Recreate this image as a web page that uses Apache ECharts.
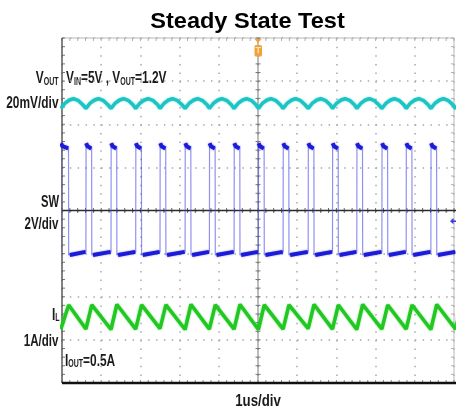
<!DOCTYPE html>
<html>
<head>
<meta charset="utf-8">
<script src="https://cdn.jsdelivr.net/npm/echarts@6/dist/echarts.min.js"></script>
<style>
  html, body { margin: 0; padding: 0; background: #fff; }
  #c { width: 456px; height: 413px; }
</style>
</head>
<body>
<div id="c"></div>
<script>
// Screen: 10 horizontal divisions at 1 us/div (trigger at t = 0), 8 vertical divisions
const TIME_RANGE = [-5, 5];
const DIV_RANGE = [-4, 4];

// Switch-node edges, in us
const swRise = [-5.03, -4.39, -3.75, -3.12, -2.50, -1.86, -1.24, -0.61, 0.01, 0.64, 1.28, 1.90, 2.52, 3.16, 3.78, 4.41, 5.04];
const swFall = [-4.83, -4.24, -3.60, -2.97, -2.35, -1.71, -1.09, -0.46, 0.16, 0.79, 1.43, 2.05, 2.67, 3.31, 3.93, 4.56, 5.19];

// Switch-node levels, in V (start / end of the high and low plateaus)
const swHighStart = 5.12;
const swHighSettled = 4.98;
const swHighEnd = 4.88;
const swLowStart = -0.06;
const swLowEnd = 0.08;

// Inductor current, in A: valley at each rising edge, peak at each falling edge
const ilValley = [0.22, 0.22, 0.21, 0.22, 0.23, 0.21, 0.22, 0.22, 0.21, 0.22, 0.23, 0.22, 0.21, 0.22, 0.22, 0.21, 0.22];
const ilPeak   = [0.78, 0.78, 0.79, 0.78, 0.78, 0.79, 0.78, 0.79, 0.78, 0.78, 0.79, 0.78, 0.79, 0.78, 0.78, 0.79, 0.78];

// Output ripple, in mV around 1.2 V: one cycle starts at each rising edge
const voutCycleT  = [0, 0.10, 0.22, 0.32, 0.45, 0.56];
const voutCycleMV = [-2.4, -0.1, 1.5, 2.1, 1.2, -0.7];

// Channel scales (units/div) and screen positions (div)
const VOUT_SCALE = 20, VOUT_POS = 2.487;
const SW_SCALE = 2,    SW_POS = -1.0;
const IL_SCALE = 1,    IL_POS = -2.97;

const vo = mv => VOUT_POS + mv / VOUT_SCALE;
const sw = v => SW_POS + v / SW_SCALE;
const il = a => IL_POS + a / IL_SCALE;

// Build traces
const voutData = [];
for (let i = 0; i < swRise.length; i++) {
  for (let k = 0; k < voutCycleT.length; k++) {
    voutData.push([swRise[i] + voutCycleT[k], vo(voutCycleMV[k])]);
  }
}

const ilData = [];
for (let i = 0; i < swRise.length; i++) {
  ilData.push([swRise[i], il(ilValley[i])]);
  ilData.push([swFall[i], il(ilPeak[i])]);
}

const swEdges = [];   // full waveform, thin
const swFlats = [];   // plateaus only, heavy
for (let i = 0; i < swRise.length - 1; i++) {
  const r = swRise[i], f = swFall[i], n = swRise[i + 1];
  swEdges.push([r, sw(swLowEnd)], [r + 0.004, sw(swHighStart)], [f - 0.004, sw(swHighEnd)], [f, sw(swLowStart)]);
  swFlats.push([r + 0.006, sw(swHighStart)], [r + 0.04, sw(swHighSettled)], [f - 0.012, sw(swHighEnd)], [f, '-']);
  swFlats.push([f + 0.03, sw(swLowStart)], [n - 0.01, sw(swLowEnd)], [n, '-']);
}
swEdges.push([swRise[swRise.length - 1], sw(swLowEnd)]);

const FONT = '"Liberation Sans", Arial, sans-serif';
const TEXT = '#1a1a1a';
const SQUEEZE = 0.7;   // condensed lettering for the channel notes

// Frame: borders, centre cross-hair, division ticks, trigger markers
function renderFrame(params, api) {
  const c = (x, y) => api.coord([x, y]);
  const kids = [];
  const seg = (a, b, stroke, lineWidth) => kids.push({
    type: 'line', shape: { x1: a[0], y1: a[1], x2: b[0], y2: b[1] },
    style: { stroke, lineWidth }
  });
  const tl = c(-5, 4), br = c(5, -4), ctr = c(0, 0);

  // top and right borders
  seg([tl[0], tl[1]], [br[0], tl[1]], '#b8b8b8', 1);
  seg([br[0], tl[1]], [br[0], br[1]], '#b8b8b8', 1);

  // minor ticks, 5 per division
  for (let t = -5; t <= 5.001; t += 0.2) {
    const x = c(t, 0)[0];
    seg([x, ctr[1] - 2.5], [x, ctr[1] + 2.5], '#666', 1);
    seg([x, tl[1]], [x, tl[1] + 3], '#b0b0b0', 1);
    seg([x, br[1] - 3], [x, br[1]], '#888', 1);
  }
  for (let d = -4; d <= 4.001; d += 0.2) {
    const y = c(0, d)[1];
    seg([ctr[0] - 2.5, y], [ctr[0] + 2.5, y], '#777', 1);
    seg([tl[0], y], [tl[0] + 3, y], '#777', 1);
    seg([br[0] - 3, y], [br[0], y], '#b0b0b0', 1);
  }

  // centre cross-hair
  seg([ctr[0], tl[1]], [ctr[0], br[1]], '#7a7a7a', 1);
  seg([tl[0], ctr[1]], [br[0] + 2, ctr[1]], '#2a2a2a', 1.5);

  // left border and heavy bottom edge
  seg([tl[0], tl[1]], [tl[0], br[1]], '#5a5a5a', 1.5);
  seg([tl[0], br[1]], [br[0] + 2, br[1]], '#111', 2.5);

  // trigger position marker
  const tp = c(0, 4);
  kids.push({ type: 'polygon', shape: { points: [[tp[0] - 3.5, tp[1] + 1], [tp[0] + 3.5, tp[1] + 1], [tp[0], tp[1] + 5]] },
              style: { fill: '#f2a23a' } });
  kids.push({ type: 'rect', shape: { x: tp[0] - 3.5, y: tp[1] + 7, width: 7.5, height: 11.5, r: 1.5 },
              style: { fill: '#f2a23a' } });
  kids.push({ type: 'text', style: { x: tp[0] + 0.3, y: tp[1] + 13, text: 'T', fill: '#fde2b8',
              font: 'bold 9px ' + FONT, align: 'center', verticalAlign: 'middle' } });

  // trigger level marker on the switch-node channel
  const lv = c(5, sw(1.5));
  kids.push({ type: 'polygon', shape: { points: [[lv[0] - 4, lv[1]], [lv[0] - 0.5, lv[1] - 3], [lv[0] - 0.5, lv[1] + 3]] },
              style: { fill: '#3a3ae6' } });
  seg([lv[0] - 1, lv[1]], [lv[0] + 2, lv[1]], '#3a3ae6', 1.5);

  return { type: 'group', children: kids };
}

const sub = { fontFamily: FONT, fontWeight: 'bold', fontSize: 10, lineHeight: 10, verticalAlign: 'bottom', fill: TEXT };
const main = { fontFamily: FONT, fontWeight: 'bold', fontSize: 17, lineHeight: 17, fill: TEXT };

function label(x, y, text, align, rich, squeeze) {
  return {
    type: 'text', x, y, silent: true, scaleX: squeeze || SQUEEZE,
    style: rich
      ? { text, align, verticalAlign: 'middle', rich: { m: main, s: sub } }
      : { text, align, verticalAlign: 'middle', fill: TEXT, font: 'bold 17px ' + FONT }
  };
}

const chart = echarts.init(document.getElementById('c'), null, { renderer: 'canvas' });
chart.setOption({
  animation: false,
  backgroundColor: '#ffffff',
  grid: { left: 62, top: 38, width: 392, height: 345 },
  xAxis: {
    type: 'value', min: TIME_RANGE[0], max: TIME_RANGE[1], interval: 1,
    axisLine: { show: false }, axisTick: { show: false }, axisLabel: { show: false },
    splitLine: { show: true, lineStyle: { color: '#a8a8a8', width: 1.5, type: [1.5, 7.125] } }
  },
  yAxis: {
    type: 'value', min: DIV_RANGE[0], max: DIV_RANGE[1], interval: 1,
    axisLine: { show: false }, axisTick: { show: false }, axisLabel: { show: false },
    splitLine: { show: true, lineStyle: { color: '#a8a8a8', width: 1.5, type: [1.5, 6.34] } }
  },
  graphic: [
    { type: 'text', x: 247.5, y: 21.5, silent: true, scaleX: 1.07,
      style: { text: 'Steady State Test', align: 'center', verticalAlign: 'middle', fill: '#000',
               font: 'bold 22px ' + FONT } },
    label(58.5, 78.5, '{m|V}{s|OUT}', 'right', true),
    label(66, 78.5, '{m|V}{s|IN}{m|=5V , V}{s|OUT}{m|=1.2V}', 'left', true),
    label(58.5, 103, '20mV/div', 'right'),
    label(59, 202, 'SW', 'right', false, 0.66),
    label(58.5, 224, '2V/div', 'right', false, 0.68),
    label(59.5, 315, '{m|I}{s|L}', 'right', true),
    label(58.5, 341, '1A/div', 'right', false, 0.68),
    label(65, 361, '{m|I}{s|OUT}{m|=0.5A}', 'left', true),
    label(258, 401, '1us/div', 'center', false, 0.78)
  ],
  series: [
    { type: 'custom', name: 'frame', data: [[0, 0]], renderItem: renderFrame, clip: false, silent: true, z: 1 },
    { type: 'line', name: 'SW edges', data: swEdges, showSymbol: false, z: 3, silent: true,
      lineStyle: { color: 'rgba(70,70,235,0.6)', width: 1.2 } },
    { type: 'line', name: 'SW', data: swFlats, showSymbol: false, z: 4, silent: true, connectNulls: false,
      lineStyle: { color: '#1c1cd8', width: 4, shadowColor: 'rgba(30,30,215,0.5)', shadowBlur: 2 } },
    { type: 'line', name: 'VOUT', data: voutData, showSymbol: false, z: 4, silent: true,
      lineStyle: { color: '#1cc4c4', width: 3.5, shadowColor: 'rgba(28,196,196,0.6)', shadowBlur: 2 } },
    { type: 'line', name: 'IL', data: ilData, showSymbol: false, z: 4, silent: true,
      lineStyle: { color: '#22c822', width: 3.5, shadowColor: 'rgba(34,200,34,0.6)', shadowBlur: 2 } }
  ]
});
</script>
</body>
</html>
